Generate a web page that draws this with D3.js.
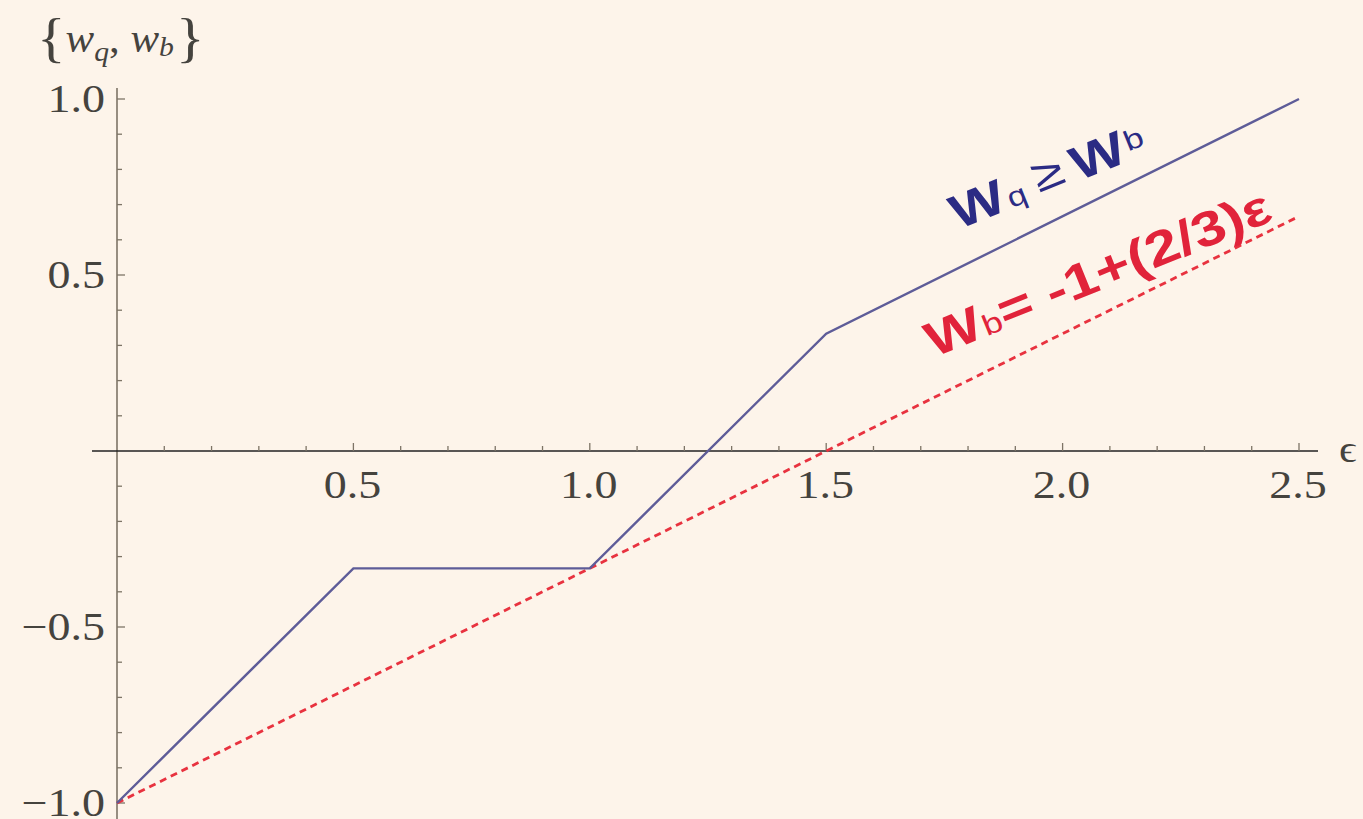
<!DOCTYPE html>
<html><head><meta charset="utf-8">
<script src="https://cdn.jsdelivr.net/npm/d3@7"></script>
<style>
html,body{margin:0;padding:0;background:#fdf4ea;}
svg{display:block;}
</style></head>
<body>
<svg id="chart" width="1363" height="819"></svg>
<script>
// ---- data ----
const epsilonKnots = [0, 0.5, 1.0, 1.5, 2.5];
const wqValues = [-1, -1/3, -1/3, 1/3, 1];
const wbEpsilon = [0, 2.5];
const wbValues = [-1, -1 + (2/3) * 2.5];
const xTickLabels = [0.5, 1.0, 1.5, 2.0, 2.5];
const yTickLabels = [-1.0, -0.5, 0.5, 1.0];
const xMinorTicks = d3.range(1, 26).map(i => i / 10);
const yMinorTicks = d3.range(-10, 11).filter(i => i !== 0).map(i => i / 10);

const svg = d3.select("#chart");
svg.append("rect").attr("width",1363).attr("height",819).attr("fill","#fdf4ea");

const x = d3.scaleLinear().domain([0, 2.5]).range([117, 1299]);
const y = d3.scaleLinear().domain([-1, 1]).range([803, 99]);

const axisGray = "#7d7466";
const labelGray = "#45433e";
const serif = "'Liberation Serif', 'Times New Roman', serif";
const sans = "'Liberation Sans', Arial, sans-serif";
const SX = 1.15; // horizontal stretch of the original picture
const SXA = 1.22;

// y axis line
svg.append("line").attr("x1", x(0)).attr("x2", x(0)).attr("y1", 88).attr("y2", 819)
  .attr("stroke", axisGray).attr("stroke-width", 1.6);
svg.append("g").selectAll("line").data(yMinorTicks).join("line")
  .attr("x1", x(0)).attr("x2", d => x(0) + (Math.round(Math.abs(d*10)) % 5 === 0 ? 8 : 5))
  .attr("y1", d => y(d)).attr("y2", d => y(d))
  .attr("stroke", axisGray).attr("stroke-width", 1.3);
svg.append("g").selectAll("text").data(yTickLabels).join("text")
  .attr("transform", d => `translate(${x(0) - 12},${y(d) + 13}) scale(${SX},1)`)
  .attr("text-anchor", "end")
  .attr("font-family", serif).attr("font-size", 40)
  .attr("fill", labelGray)
  .text(d => (d < 0 ? "\u2212" : "") + Math.abs(d).toFixed(1));

// x axis line
svg.append("line").attr("x1", 92).attr("x2", 1318).attr("y1", y(0)).attr("y2", y(0))
  .attr("stroke", "#222").attr("stroke-width", 1.6);
svg.append("g").selectAll("line").data(xMinorTicks).join("line")
  .attr("x1", d => x(d)).attr("x2", d => x(d))
  .attr("y1", y(0)).attr("y2", d => y(0) - (Math.round(d*10) % 5 === 0 ? 8 : 5))
  .attr("stroke", axisGray).attr("stroke-width", 1.3);
svg.append("g").selectAll("text").data(xTickLabels).join("text")
  .attr("transform", d => `translate(${x(d) - 1},${y(0) + 47}) scale(${SX},1)`)
  .attr("text-anchor", "middle")
  .attr("font-family", serif).attr("font-size", 40)
  .attr("fill", labelGray)
  .text(d => d.toFixed(1));

// axis labels
svg.append("text").attr("transform", `translate(1339,${y(0) + 11}) scale(${SX},1)`)
  .attr("font-family", serif).attr("font-size", 38)
  .attr("fill", labelGray).text("\u03F5");

const yl = svg.append("text").attr("transform", `translate(37,52) scale(1.1,1)`)
  .attr("font-family", serif).attr("font-size", 39).attr("fill", labelGray);
yl.append("tspan").attr("font-size", 54).attr("dy", 4).text("{");
yl.append("tspan").attr("font-style", "italic").attr("dy", -4).text("w");
yl.append("tspan").attr("font-style", "italic").attr("font-size", 27).attr("dy", 9).text("q");
yl.append("tspan").attr("dy", -9).text(", ");
yl.append("tspan").attr("font-style", "italic").text("w");
yl.append("tspan").attr("font-style", "italic").attr("font-size", 27).attr("dy", 4).text("b");
yl.append("tspan").attr("font-size", 54).attr("dy", 0).attr("dx", 2).text("}");

// lines
const line = d3.line().x(d => x(d[0])).y(d => y(d[1]));
svg.append("path").datum(d3.zip(wbEpsilon, wbValues)).attr("d", line)
  .attr("fill", "none").attr("stroke", "#e8323f").attr("stroke-width", 2.8)
  .attr("stroke-dasharray", "7,5");
svg.append("path").datum(d3.zip(epsilonKnots, wqValues)).attr("d", line)
  .attr("fill", "none").attr("stroke", "#5e5c98").attr("stroke-width", 2.4);

// annotations
const ang = -22;
const t1 = svg.append("text")
  .attr("transform", `translate(${x(1.779)},${y(0.628)}) rotate(${ang}) scale(${SXA},1)`)
  .attr("font-family", sans).attr("font-weight", "bold")
  .attr("fill", "#2b2b84").attr("font-size", 48);
t1.append("tspan").text("W");
t1.append("tspan").attr("font-size", 28).attr("font-weight", "normal").attr("dx", 2).text("q");
t1.append("tspan").attr("font-size", 46).attr("font-weight", "normal").attr("dx", 10).attr("dy", -4).text("\u2265");
t1.append("tspan").attr("dx", 8).attr("dy", 4).text("W");
t1.append("tspan").attr("font-size", 28).attr("font-weight", "normal").attr("dx", 2).attr("dy", -9).text("b");

const t2 = svg.append("text")
  .attr("transform", `translate(${x(1.727)},${y(0.265)}) rotate(${ang}) scale(${SXA},1)`)
  .attr("font-family", sans).attr("font-weight", "bold")
  .attr("fill", "#e1233a").attr("font-size", 49);
t2.append("tspan").text("W");
t2.append("tspan").attr("font-size", 29).attr("font-weight", "normal").attr("dx", 1).text("b");
t2.append("tspan").text("= -1+(2/3)\u03B5");
</script>
</body></html>
